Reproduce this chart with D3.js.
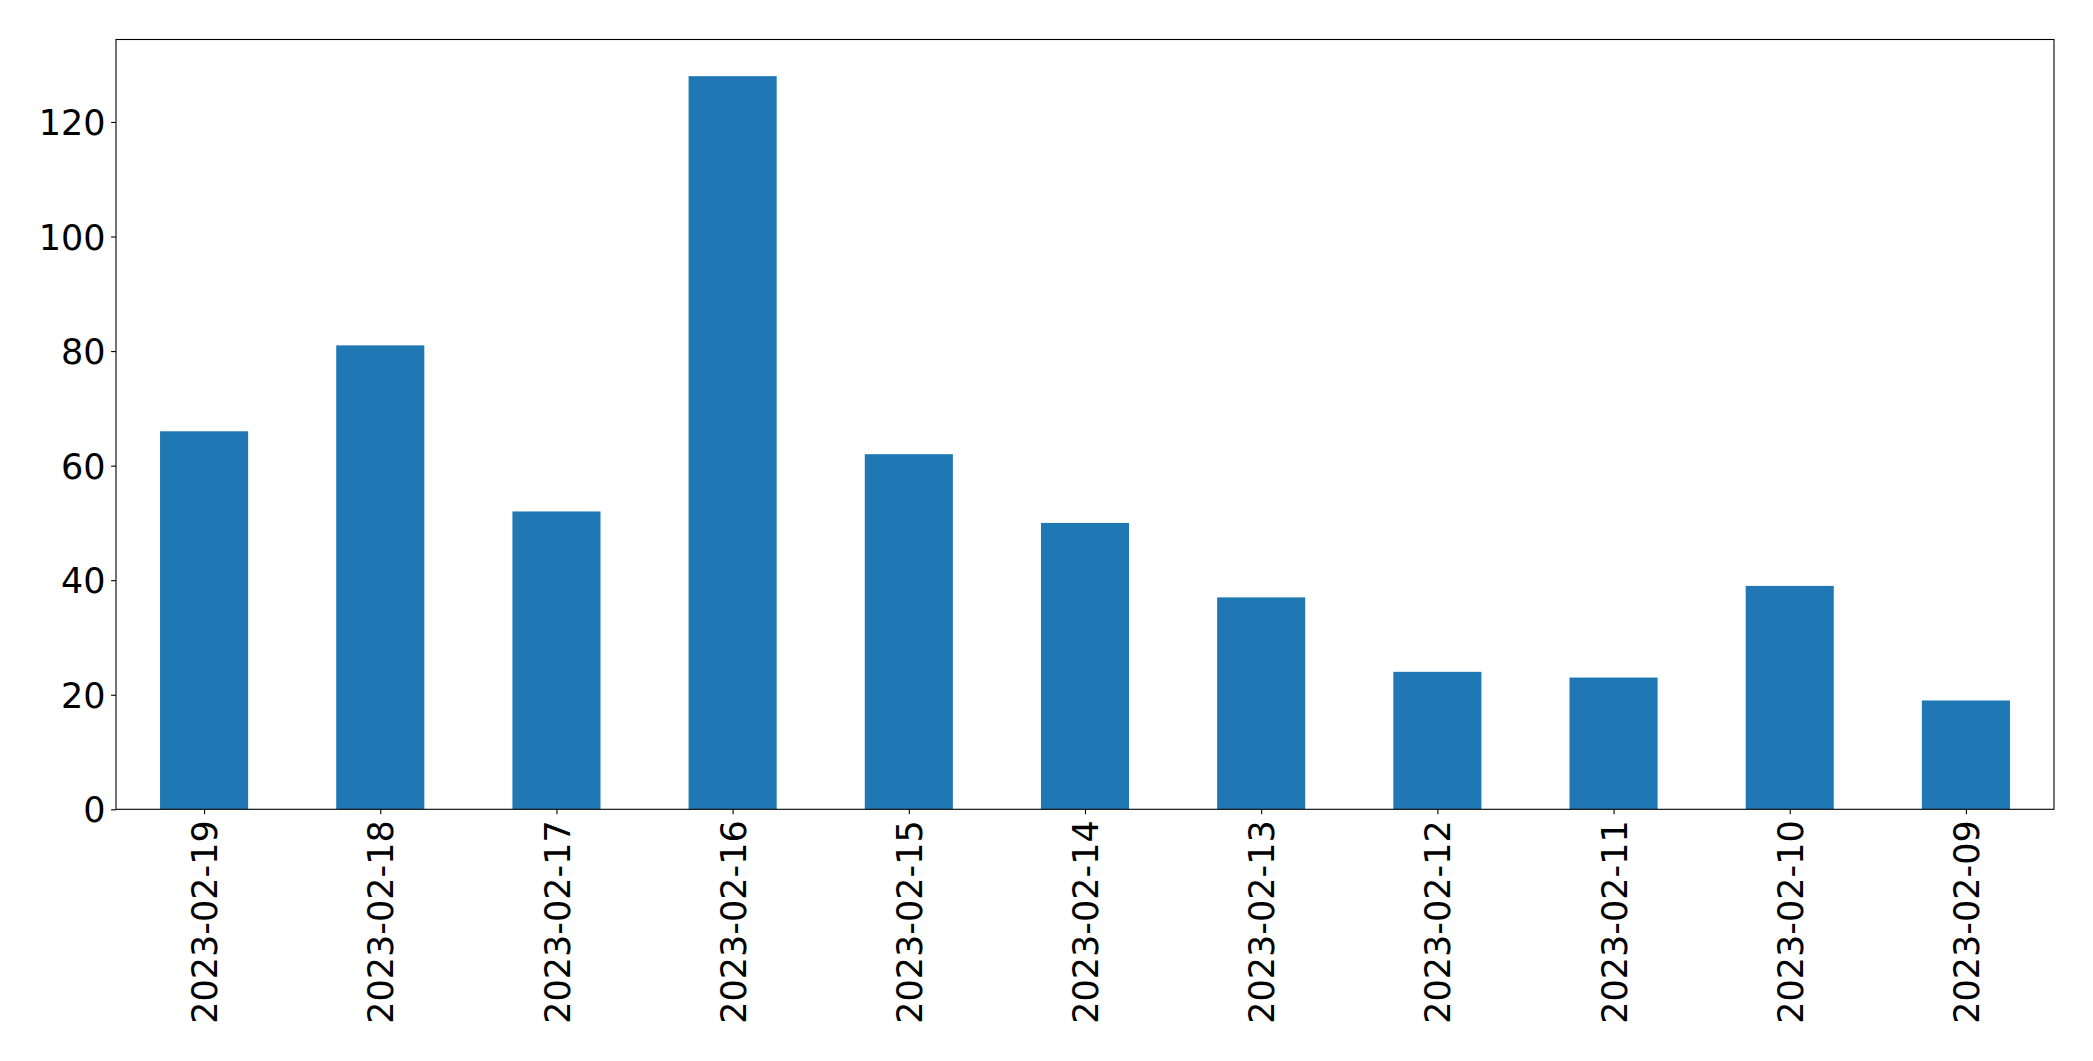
<!DOCTYPE html>
<html>
<head>
<meta charset="utf-8">
<script src="https://cdn.jsdelivr.net/npm/d3@7"></script>
<style>
  html, body { margin: 0; padding: 0; background: #fff; }
  svg { display: block; }
  text { font-family: "DejaVu Sans", sans-serif; }
</style>
</head>
<body>
<script>
const categories = ["2023-02-19","2023-02-18","2023-02-17","2023-02-16","2023-02-15","2023-02-14","2023-02-13","2023-02-12","2023-02-11","2023-02-10","2023-02-09"];
const values = [66, 81, 52, 128, 62, 50, 37, 24, 23, 39, 19];
const yTicks = [0, 20, 40, 60, 80, 100, 120];

const W = 2093, H = 1061;
const mLeft = 116, mRight = 2054, mTop = 39.5, mBottom = 809.3;
const fontPx = 35;

const svg = d3.select("body").append("svg").attr("width", W).attr("height", H);

const x = d3.scaleLinear().domain([-0.5, categories.length - 0.5]).range([mLeft, mRight]);
const y = d3.scaleLinear().domain([0, d3.max(values) * 1.05]).range([mBottom, mTop]);

svg.append("g").selectAll("rect").data(values).join("rect")
  .attr("x", (d, i) => x(i - 0.25))
  .attr("width", (d, i) => x(i + 0.25) - x(i - 0.25))
  .attr("y", d => y(d))
  .attr("height", d => y(0) - y(d))
  .attr("fill", "#1f77b4");

// frame
svg.append("rect").attr("x", mLeft).attr("y", mTop)
  .attr("width", mRight - mLeft).attr("height", mBottom - mTop)
  .attr("fill", "none").attr("stroke", "#000").attr("stroke-width", 1.1);

const yAxis = d3.axisLeft(y).tickValues(yTicks).tickSize(4.9).tickPadding(5.5).tickFormat(d3.format("d"));
const gy = svg.append("g").attr("transform", `translate(${mLeft},0)`).call(yAxis);
gy.select(".domain").remove();
gy.selectAll("line").attr("stroke", "#000").attr("stroke-width", 1.1);
gy.selectAll("text").attr("font-size", fontPx).attr("fill", "#000")
  .attr("font-family", "DejaVu Sans, sans-serif").attr("dy", "0.36em");

const xAxis = d3.axisBottom(x).tickValues(d3.range(categories.length))
  .tickFormat(i => categories[i]).tickSize(4.9).tickPadding(4.9);
const gx = svg.append("g").attr("transform", `translate(0,${mBottom})`).call(xAxis);
gx.select(".domain").remove();
gx.selectAll("line").attr("stroke", "#000").attr("stroke-width", 1.1);
gx.selectAll("text").attr("font-size", fontPx).attr("fill", "#000")
  .attr("font-family", "DejaVu Sans, sans-serif")
  .attr("transform", "rotate(-90)")
  .attr("text-anchor", "end")
  .attr("x", -11).attr("y", 0).attr("dy", "0.36em");
</script>
</body>
</html>
